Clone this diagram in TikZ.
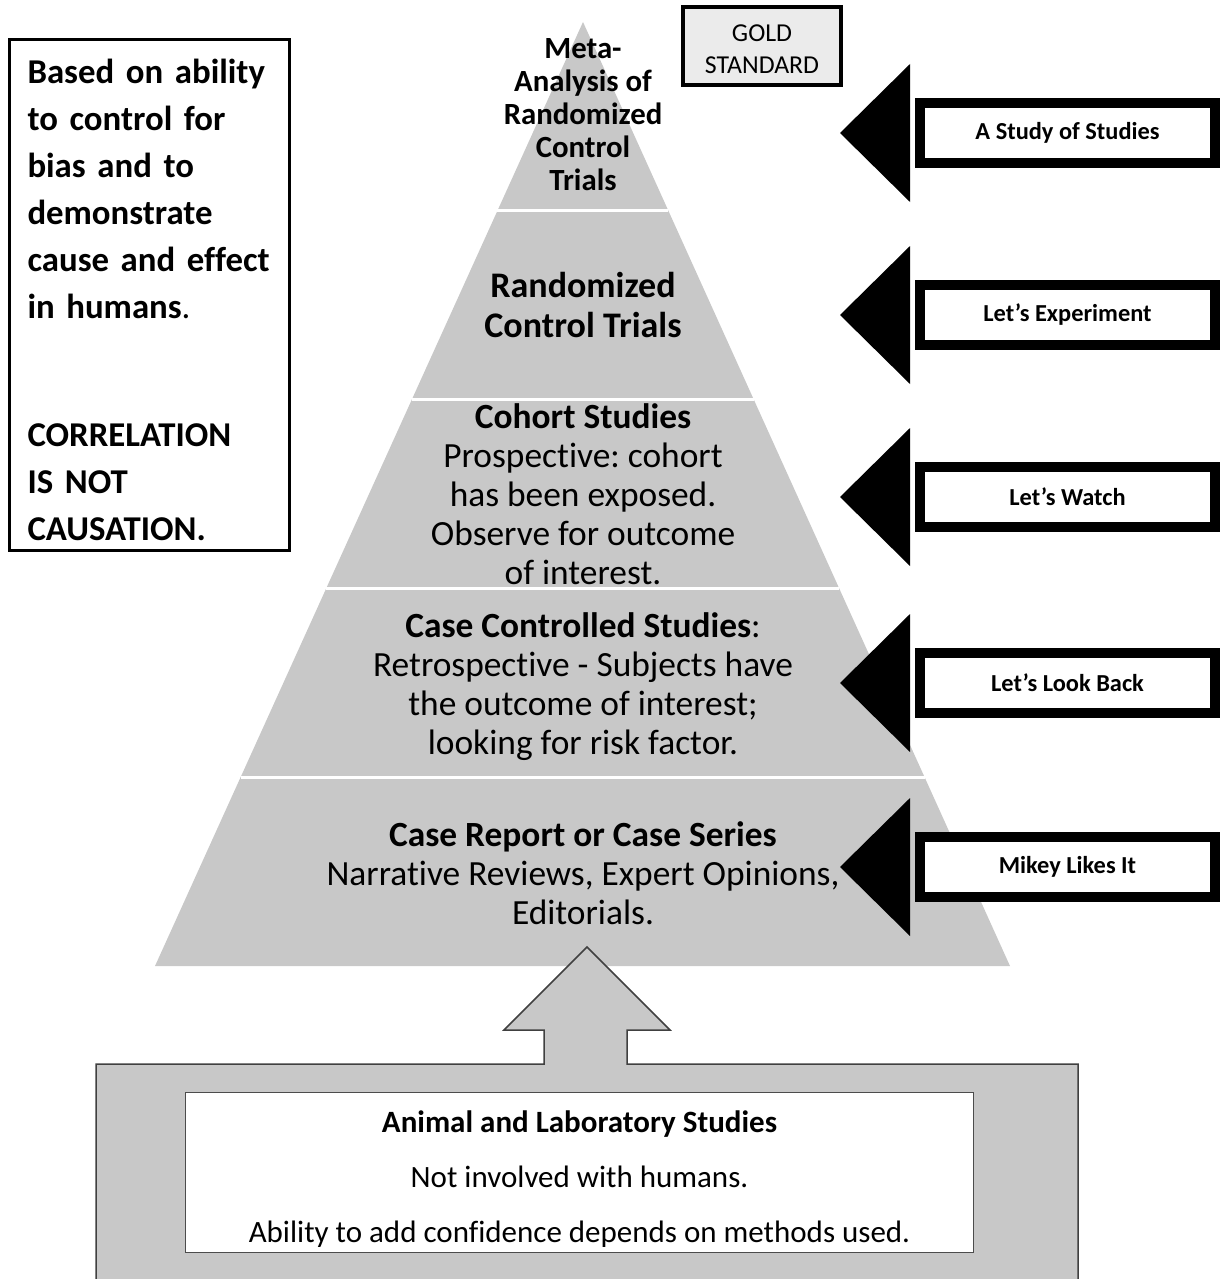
\documentclass[tikz,border=0pt]{standalone}
\usepackage{fontspec}
\setmainfont{Carlito}[Ligatures={TeX,NoCommon}]
\frenchspacing
\usetikzlibrary{calc}
\definecolor{pyr}{RGB}{200,200,200}
\tikzset{
  tl/.style={align=center,inner sep=0pt},
  sh/.style={draw,line width=5pt,fill=white,minimum width=147.5pt,minimum height=30pt,inner sep=0pt,font=\fontsize{12.2}{14}\selectfont\bfseries},
  nb/.style={draw,line width=1.5pt,align=left,text width=122pt,minimum height=255.5pt,inner xsep=9pt,inner ysep=4pt,font=\fontsize{17.4}{23.5}\selectfont\bfseries,anchor=north west},
  gs/.style={draw,line width=2pt,fill=black!8,minimum width=79pt,minimum height=39pt,inner sep=0pt,align=center,font=\fontsize{12.9}{16}\selectfont},
  ol/.style={draw=black!75,line width=0.75pt,fill=pyr},
  lb/.style={draw=black!70,line width=0.75pt,fill=white,minimum width=394pt,minimum height=80pt,inner sep=0pt,align=center,font=\fontsize{15.5}{27.5}\selectfont}
}

\begin{document}
\begin{tikzpicture}[x=0.5pt,y=-0.5pt]
    \useasboundingbox (0,0) rectangle (1224,1279);
    % pyramid
    \coordinate (A) at (583,22);
    \coordinate (BL) at (155,966);
    \coordinate (BR) at (1010,966);
    \fill[pyr] (A) -- (BL) -- (BR) -- cycle;
    \foreach \t in {0.2,0.4,0.6,0.8}
      \draw[white,line width=1.5pt] ($(A)!\t!(BL)$) -- ($(A)!\t!(BR)$);
    \node[tl,font=\fontsize{15.4}{16.5}\selectfont\bfseries] (t1) at (583,115) {Meta-\\Analysis of\\Randomized\\Control\\Trials};
    \node[tl,font=\fontsize{18}{20}\selectfont\bfseries] (t2) at (583,305) {Randomized\\Control Trials};
    \node[tl,font=\fontsize{17.7}{19.5}\selectfont] (t3) at (583,494) {\textbf{Cohort Studies}\\Prospective: cohort\\has been exposed.\\Observe for outcome\\of interest.};
    \node[tl,font=\fontsize{17.7}{19.5}\selectfont] (t4) at (583,687) {\textbf{Case Controlled Studies}:\\Retrospective - Subjects have\\the outcome of interest;\\looking for risk factor.};
    \node[tl,font=\fontsize{17.7}{19.5}\selectfont] (t5) at (583,873) {\textbf{Case Report or Case Series}\\Narrative Reviews, Expert Opinions,\\Editorials.};
    % side notes
    \node[gs] (gold) at (762,46) {\rule{0pt}{11.3pt}GOLD\\STANDARD};
    \node[nb] (note) at (8,38) {\rule{0pt}{17.2pt}Based on ability\\to control for\\bias and to\\demonstrate\\cause and effect\\in humans\textmd{.}\\[40.5pt]CORRELATION\\IS NOT\\CAUSATION.};
    % arrows
    \foreach \c/\txt [count=\i] in {133/A Study of Studies,315/Let’s Experiment,497/Let’s Watch,683/Let’s Look Back,867/Mikey Likes It}{
      \node[sh] (sh\i) at (1067.5,\c) {\txt};
      \fill (sh\i.west) ++(-5,-69) -- ++(-70,69) -- ++(70,69) -- cycle;
    }
    % base
    \coordinate (tip) at (587,947);
    \draw[ol] (96,1290) -- (96,1064) -- (544,1064) -- (544,1030) -- (504,1030) -- (tip) -- (670,1030) -- (627,1030) -- (627,1064) -- (1078,1064) -- (1078,1290);
    \node[lb] (lab) at (579.5,1172.5) {\rule{0pt}{17.9pt}\textbf{Animal and Laboratory Studies}\\Not involved with humans.\\Ability to add confidence depends on methods used.};
\end{tikzpicture}
\end{document}
